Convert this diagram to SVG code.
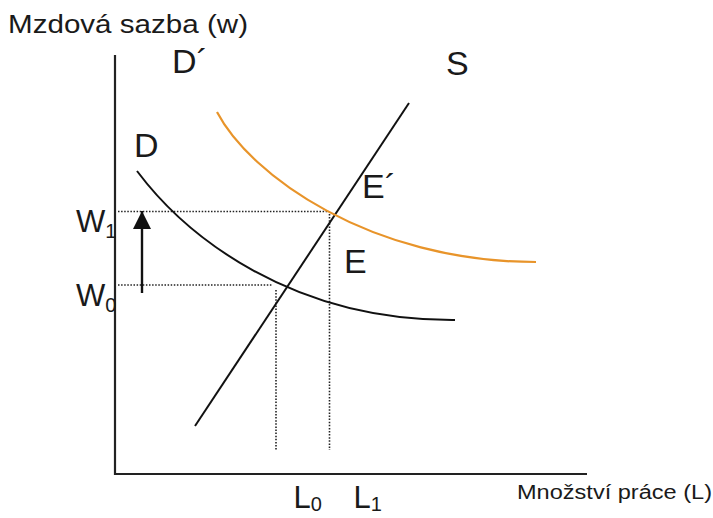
<svg xmlns="http://www.w3.org/2000/svg" width="713" height="518" viewBox="0 0 713 518">
<style>
text{font-family:"Liberation Sans",Arial,sans-serif;fill:#1a1a1a}
.big{font-size:34px}
.mid{font-size:31px}
.sub{font-size:20px}
.ax{fill:none;stroke:#222;stroke-width:2.2}
.crv{fill:none;stroke:#111;stroke-width:2}
.dot{fill:none;stroke:#222;stroke-width:1.6;stroke-dasharray:1.5 1.6}
</style>
<defs>
<marker id="ah" viewBox="0 0 18 18" refX="18" refY="9" markerWidth="18" markerHeight="18" orient="auto" markerUnits="userSpaceOnUse">
<path d="M0,0 L18,9 L0,18 z" fill="#111"/>
</marker>
</defs>
<g id="axes">
<path class="ax" d="M115,55 V474 H587"/>
<text x="8" y="33" font-size="25" textLength="240" lengthAdjust="spacingAndGlyphs">Mzdová sazba (w)</text>
<text x="517" y="499" font-size="20" textLength="195" lengthAdjust="spacingAndGlyphs">Množství práce (L)</text>
</g>
<g id="connectors">
<path class="dot" d="M118,211.5 H329"/>
<path class="dot" d="M118,285 H273"/>
<path class="dot" d="M276,290 V450"/>
<path class="dot" d="M329.5,214 V450"/>
<path d="M142,293 V211" fill="none" stroke="#111" stroke-width="2.4" marker-end="url(#ah)"/>
</g>
<g id="S">
<path class="crv" d="M195,426 L409,103"/>
<text class="big" x="446" y="75">S</text>
</g>
<g id="D">
<path class="crv" d="M137,171 C185,235 290,321 455,320"/>
<text class="big" x="134" y="157">D</text>
</g>
<g id="Dprime">
<path fill="none" stroke="#E8942A" stroke-width="2.2" d="M217,112 C250,175 370,262 536,262"/>
<text class="big" x="172" y="73">D´</text>
</g>
<g id="E"><text class="big" x="344" y="273">E</text></g>
<g id="Eprime"><text class="big" x="362" y="198">E´</text></g>
<g id="W1"><text class="mid" x="76" y="232">W<tspan class="sub" dy="6">1</tspan></text></g>
<g id="W0"><text class="mid" x="76" y="306">W<tspan class="sub" dy="6">0</tspan></text></g>
<g id="L0"><text class="mid" x="293.5" y="508">L<tspan class="sub" dy="3">0</tspan></text></g>
<g id="L1"><text class="mid" x="353.5" y="508">L<tspan class="sub" dy="3">1</tspan></text></g>
</svg>
